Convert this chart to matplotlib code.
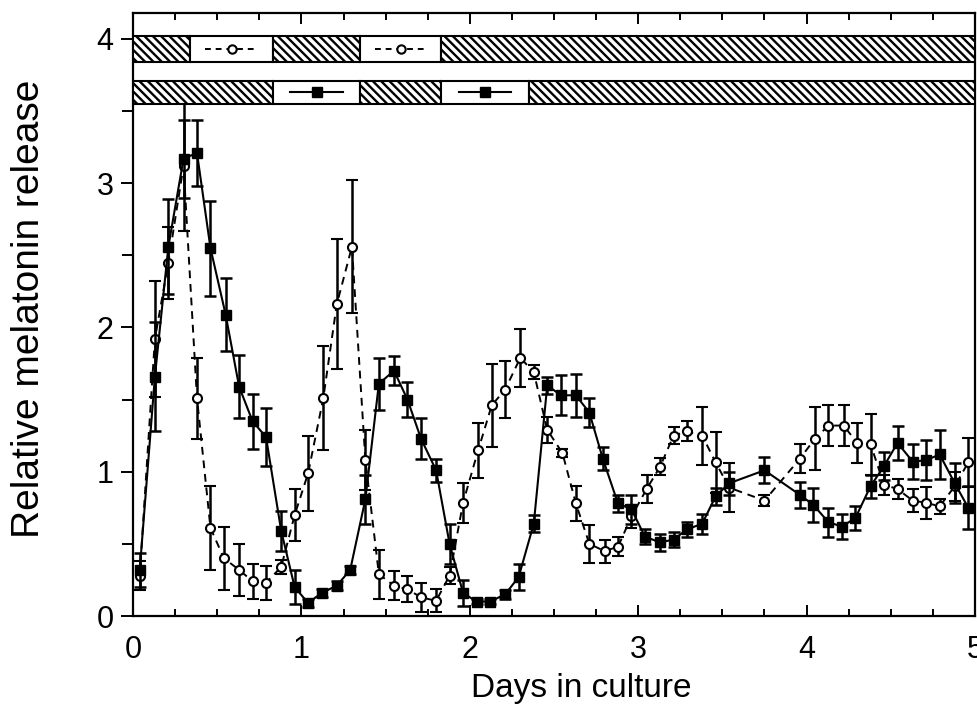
import numpy as np
import matplotlib
matplotlib.use('Agg')
import matplotlib.pyplot as plt
from matplotlib.patches import Rectangle

plt.rcParams['font.family'] = ['Liberation Sans', 'DejaVu Sans']
plt.rcParams['hatch.linewidth'] = 1.7

# filled squares (solid line)
sq_x = [0.04, 0.13, 0.21, 0.30, 0.38, 0.46, 0.55, 0.63, 0.71, 0.79, 0.88, 0.96,
        1.04, 1.12, 1.21, 1.29, 1.38, 1.46, 1.55, 1.63, 1.71, 1.80, 1.88, 1.96,
        2.04, 2.12, 2.21, 2.29, 2.38, 2.46, 2.54, 2.63, 2.71, 2.79, 2.88, 2.96,
        3.04, 3.13, 3.21, 3.29, 3.38, 3.46, 3.54, 3.75, 3.96, 4.04, 4.13, 4.21,
        4.29, 4.38, 4.46, 4.54, 4.63, 4.71, 4.79, 4.88, 4.96]
sq_y = [0.32, 1.66, 2.56, 3.17, 3.21, 2.55, 2.09, 1.59, 1.35, 1.24, 0.59, 0.20,
        0.09, 0.16, 0.21, 0.32, 0.81, 1.61, 1.70, 1.50, 1.23, 1.01, 0.50, 0.16,
        0.10, 0.10, 0.15, 0.27, 0.64, 1.60, 1.53, 1.53, 1.41, 1.09, 0.78, 0.74,
        0.55, 0.51, 0.53, 0.60, 0.64, 0.83, 0.92, 1.01, 0.84, 0.77, 0.65, 0.62,
        0.68, 0.90, 1.04, 1.20, 1.07, 1.08, 1.12, 0.92, 0.75]
sq_err = [0.12, 0.38, 0.33, 0.27, 0.23, 0.33, 0.25, 0.22, 0.19, 0.20, 0.14, 0.12,
          0.03, 0.03, 0.03, 0.03, 0.17, 0.18, 0.10, 0.12, 0.14, 0.08, 0.14, 0.09,
          0.02, 0.02, 0.03, 0.09, 0.06, 0.06, 0.14, 0.15, 0.10, 0.08, 0.06, 0.10,
          0.05, 0.06, 0.05, 0.05, 0.07, 0.06, 0.08, 0.09, 0.09, 0.12, 0.10, 0.085,
          0.085, 0.08, 0.10, 0.12, 0.12, 0.14, 0.17, 0.14, 0.15]

# open circles (dashed line)
ci_x = [0.04, 0.13, 0.21, 0.30, 0.38, 0.46, 0.54, 0.63, 0.71, 0.79, 0.88, 0.96,
        1.04, 1.13, 1.21, 1.30, 1.38, 1.46, 1.55, 1.63, 1.71, 1.80, 1.88, 1.96,
        2.05, 2.13, 2.21, 2.30, 2.38, 2.46, 2.55, 2.63, 2.71, 2.80, 2.88, 2.96,
        3.05, 3.13, 3.21, 3.29, 3.38, 3.46, 3.54, 3.75, 3.96, 4.05, 4.13, 4.22,
        4.30, 4.38, 4.46, 4.54, 4.63, 4.71, 4.79, 4.88, 4.96]
ci_y = [0.28, 1.92, 2.45, 3.12, 1.51, 0.61, 0.40, 0.32, 0.24, 0.23, 0.34, 0.70,
        0.99, 1.51, 2.16, 2.56, 1.08, 0.29, 0.21, 0.185, 0.13, 0.105, 0.28, 0.785,
        1.15, 1.46, 1.57, 1.79, 1.69, 1.29, 1.13, 0.78, 0.50, 0.45, 0.48, 0.69,
        0.88, 1.035, 1.25, 1.28, 1.25, 1.065, 0.89, 0.80, 1.09, 1.23, 1.32, 1.32,
        1.20, 1.19, 0.91, 0.88, 0.80, 0.785, 0.76, 0.90, 1.065]
ci_err = [0.10, 0.40, 0.25, 0.45, 0.28, 0.29, 0.22, 0.18, 0.12, 0.12, 0.05, 0.18,
          0.26, 0.36, 0.45, 0.46, 0.21, 0.17, 0.10, 0.09, 0.10, 0.08, 0.06, 0.14,
          0.19, 0.29, 0.20, 0.20, 0.05, 0.09, 0.03, 0.12, 0.13, 0.08, 0.065, 0.08,
          0.10, 0.06, 0.06, 0.07, 0.20, 0.21, 0.17, 0.04, 0.10, 0.22, 0.14, 0.14,
          0.14, 0.21, 0.07, 0.07, 0.08, 0.11, 0.05, 0.10, 0.17]

# light/dark bars: (start, end, hatched)
open_bar = [(0.0, 0.34, True), (0.34, 0.83, False), (0.83, 1.35, True),
            (1.35, 1.83, False), (1.83, 5.0, True)]
filled_bar = [(0.0, 0.83, True), (0.83, 1.35, False), (1.35, 1.83, True),
              (1.83, 2.35, False), (2.35, 5.0, True)]

fig = plt.figure(figsize=(9.78, 7.11), dpi=100)
ax = fig.add_axes([133/978, 95/711, 842/978, 603/711])

ax.errorbar(ci_x, ci_y, yerr=ci_err, color='black', lw=1.4, ls=(0, (4, 3)),
            marker='o', ms=6.5, mfc='white', mec='black', mew=1.5,
            ecolor='black', elinewidth=1.8, capsize=4, capthick=1.8, zorder=2)
ax.errorbar(sq_x, sq_y, yerr=sq_err, color='black', lw=1.5, ls='-',
            marker='s', ms=7.5, mfc='black', mec='black',
            ecolor='black', elinewidth=1.8, capsize=4, capthick=1.8, zorder=3)

def draw_bar(segs, y0, h):
    for a, b, hatched in segs:
        ax.add_patch(Rectangle((a, y0), b - a, h, facecolor='white',
                               edgecolor='black', lw=1.5,
                               hatch='\\\\\\\\' if hatched else None, zorder=4))

draw_bar(open_bar, 3.84, 0.18)
draw_bar(filled_bar, 3.55, 0.16)

# symbols in the blank boxes
for a, b, hatched in open_bar:
    if not hatched:
        c = (a + b) / 2
        ax.plot([c - 0.155, c + 0.155], [3.93, 3.93], color='black', lw=1.4,
                ls=(0, (3, 2.5)), zorder=5)
        ax.plot([c], [3.93], marker='o', ms=6, mfc='white', mec='black',
                mew=1.5, zorder=6)
for a, b, hatched in filled_bar:
    if not hatched:
        c = (a + b) / 2
        ax.plot([c - 0.155, c + 0.155], [3.63, 3.63], color='black', lw=1.5,
                zorder=5)
        ax.plot([c], [3.63], marker='s', ms=7, color='black', zorder=6)

ax.set_xlim(0, 5)
ax.set_ylim(0, 4.18)
for s in ax.spines.values():
    s.set_linewidth(1.6)

ax.set_xticks(np.arange(0, 6, 1))
ax.set_xticks(np.arange(0, 5.01, 0.25), minor=True)
ax.set_yticks(np.arange(0, 5, 1))
ax.set_yticks(np.arange(0, 4.1, 0.5), minor=True)
ax.tick_params(axis='x', which='both', direction='in', top=True, labelsize=22,
               pad=14, width=1.4)
ax.tick_params(axis='x', which='major', length=8)
ax.tick_params(axis='x', which='minor', length=5)
ax.tick_params(axis='y', which='both', direction='out', labelsize=22, pad=5,
               width=1.4)
ax.tick_params(axis='y', which='major', length=9)
ax.tick_params(axis='y', which='minor', length=8)

ax.set_xlabel('Days in culture', fontsize=24)
ax.xaxis.set_label_coords(0.532, -0.095)
ax.set_ylabel('Relative melatonin release', fontsize=28)
ax.yaxis.set_label_coords(-0.102, 0.51)

fig.savefig('out.png', dpi=100)
